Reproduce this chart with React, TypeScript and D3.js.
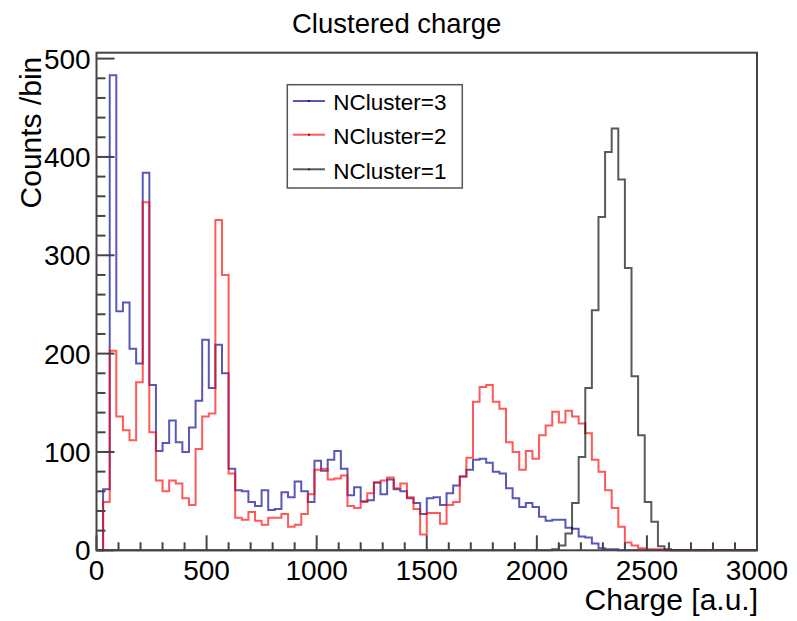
import React from "react";
import * as d3 from "d3";

const BIN_WIDTH = 30;
const X_MIN = 0;
const X_MAX = 3000;
const Y_MAX = 506;

// NCluster=3 (blue)
const nCluster3 = [
  0, 62, 483, 243, 252, 205, 190, 384, 168, 101,
  109, 132, 110, 100, 125, 152, 214, 165, 209, 180,
  83, 61, 60, 49, 45, 61, 41, 42, 59, 54,
  70, 60, 49, 91, 81, 92, 101, 83, 56, 64,
  50, 51, 69, 57, 72, 62, 60, 53, 48, 37,
  53, 54, 46, 58, 66, 75, 82, 92, 93, 89,
  80, 78, 63, 53, 44, 48, 44, 34, 30, 31,
  31, 23, 22, 14, 13, 7, 2, 1, 1, 0,
  0, 0, 0, 0, 0, 0, 0, 0, 0, 0,
  0, 0, 0, 0, 0, 0, 0, 0, 0, 0,
];

// NCluster=2 (red)
const nCluster2 = [
  0, 49, 203, 136, 122, 112, 171, 354, 120, 71,
  60, 71, 68, 53, 46, 103, 136, 139, 336, 280,
  78, 33, 31, 39, 30, 26, 33, 33, 37, 24,
  26, 37, 57, 82, 83, 72, 73, 76, 45, 43,
  49, 58, 69, 71, 74, 63, 68, 54, 42, 16,
  38, 38, 27, 46, 49, 75, 94, 151, 166, 168,
  151, 144, 110, 100, 82, 101, 93, 117, 127, 141,
  130, 142, 136, 129, 119, 92, 80, 61, 43, 24,
  8, 5, 2, 1, 1, 1, 0, 0, 0, 0,
  0, 0, 0, 0, 0, 0, 0, 0, 0, 0,
];

// NCluster=1 (black)
const nCluster1 = [
  0, 0, 0, 0, 0, 0, 0, 0, 0, 0,
  0, 0, 0, 0, 0, 0, 0, 0, 0, 0,
  0, 0, 0, 0, 0, 0, 0, 0, 0, 0,
  0, 0, 0, 0, 0, 0, 0, 0, 0, 0,
  0, 0, 0, 0, 0, 0, 0, 0, 0, 0,
  0, 0, 0, 0, 0, 0, 0, 0, 0, 0,
  0, 0, 0, 0, 0, 0, 0, 0, 0, 1,
  5, 17, 48, 95, 165, 244, 339, 405, 429, 377,
  287, 177, 117, 49, 29, 4, 1, 0, 0, 0,
  0, 0, 0, 0, 0, 0, 0, 0, 0, 0,
];

const xMajorTicks = [0, 500, 1000, 1500, 2000, 2500, 3000];
const yMajorTicks = [0, 100, 200, 300, 400, 500];

const series = [
  { name: "NCluster=3", values: nCluster3, color: "#2020a0", opacity: 0.75 },
  { name: "NCluster=2", values: nCluster2, color: "#ff0000", opacity: 0.65 },
  { name: "NCluster=1", values: nCluster1, color: "#000000", opacity: 0.65 },
];

const FONT = "'Liberation Sans', Arial, Helvetica, sans-serif";

export default function App() {
  const W = 797;
  const H = 621;
  const left = 96.5;
  const right = 757;
  const top = 52.7;
  const bottom = 550.3;

  const x = d3.scaleLinear().domain([X_MIN, X_MAX]).range([left, right]);
  const y = d3.scaleLinear().domain([0, Y_MAX]).range([bottom, top]);

  const line = d3
    .line<[number, number]>()
    .x((d) => x(d[0]))
    .y((d) => y(d[1]))
    .curve(d3.curveStepAfter);

  const pathFor = (vals: number[]) => {
    const pts: [number, number][] = vals.map((v, i) => [X_MIN + i * BIN_WIDTH, v]);
    pts.push([X_MAX, vals[vals.length - 1]]);
    return line(pts) || "";
  };

  const xMinor = d3.range(0, X_MAX + 1, 100).filter((v) => v % 500 !== 0);
  const yMinor = d3.range(0, Y_MAX, 20).filter((v) => v % 100 !== 0);

  const legendRows = [101, 134.7, 169.3];

  return (
    <svg
      width={W}
      height={H}
      style={{ position: "absolute", left: 0, top: 0, background: "#fff" }}
      fontFamily={FONT}
    >
      <rect x={0} y={0} width={W} height={H} fill="#fff" />
      {/* histograms */}
      {series.map((s) => (
        <path
          key={s.name}
          d={pathFor(s.values)}
          fill="none"
          stroke={s.color}
          strokeOpacity={s.opacity}
          strokeWidth={2}
        />
      ))}
      {/* frame */}
      <rect
        x={left}
        y={top}
        width={right - left}
        height={bottom - top}
        fill="none"
        stroke="#444"
        strokeWidth={2}
      />
      {/* x ticks */}
      {xMajorTicks.map((t) => (
        <line key={"xM" + t} x1={x(t)} x2={x(t)} y1={bottom} y2={bottom - 15} stroke="#444" strokeWidth={2} />
      ))}
      {xMinor.map((t) => (
        <line key={"xm" + t} x1={x(t)} x2={x(t)} y1={bottom} y2={bottom - 8} stroke="#444" strokeWidth={2} />
      ))}
      {xMajorTicks.map((t) => (
        <text key={"xl" + t} x={x(t)} y={580} fontSize={28} textAnchor="middle" fill="#000">
          {t}
        </text>
      ))}
      {/* y ticks */}
      {yMajorTicks.map((t) => (
        <line key={"yM" + t} x1={left} x2={left + 18} y1={y(t)} y2={y(t)} stroke="#444" strokeWidth={2} />
      ))}
      {yMinor.map((t) => (
        <line key={"ym" + t} x1={left} x2={left + 9} y1={y(t)} y2={y(t)} stroke="#444" strokeWidth={2} />
      ))}
      {yMajorTicks.map((t) => (
        <text key={"yl" + t} x={90.7} y={y(t) + 10} fontSize={28} textAnchor="end" fill="#000">
          {t}
        </text>
      ))}
      {/* titles */}
      <text x={396.7} y={33.3} fontSize={27.5} textAnchor="middle" fill="#000">
        Clustered charge
      </text>
      <text x={758} y={610} fontSize={30} textAnchor="end" fill="#000">
        Charge [a.u.]
      </text>
      <text transform="translate(41,56.7) rotate(-90)" fontSize={30} textAnchor="end" fill="#000">
        Counts /bin
      </text>
      {/* legend */}
      <rect x={287.3} y={84.7} width={175} height={103.3} fill="#fff" stroke="#555" strokeWidth={1.5} />
      {series.map((s, i) => (
        <g key={"lg" + s.name}>
          <line
            x1={293}
            x2={325}
            y1={legendRows[i]}
            y2={legendRows[i]}
            stroke={s.color}
            strokeOpacity={s.opacity}
            strokeWidth={2}
          />
          <circle cx={309} cy={legendRows[i]} r={0.9} fill="#000" />
          <text x={333.3} y={legendRows[i] + 9.3} fontSize={22.5} fill="#000">
            {s.name}
          </text>
        </g>
      ))}
    </svg>
  );
}
